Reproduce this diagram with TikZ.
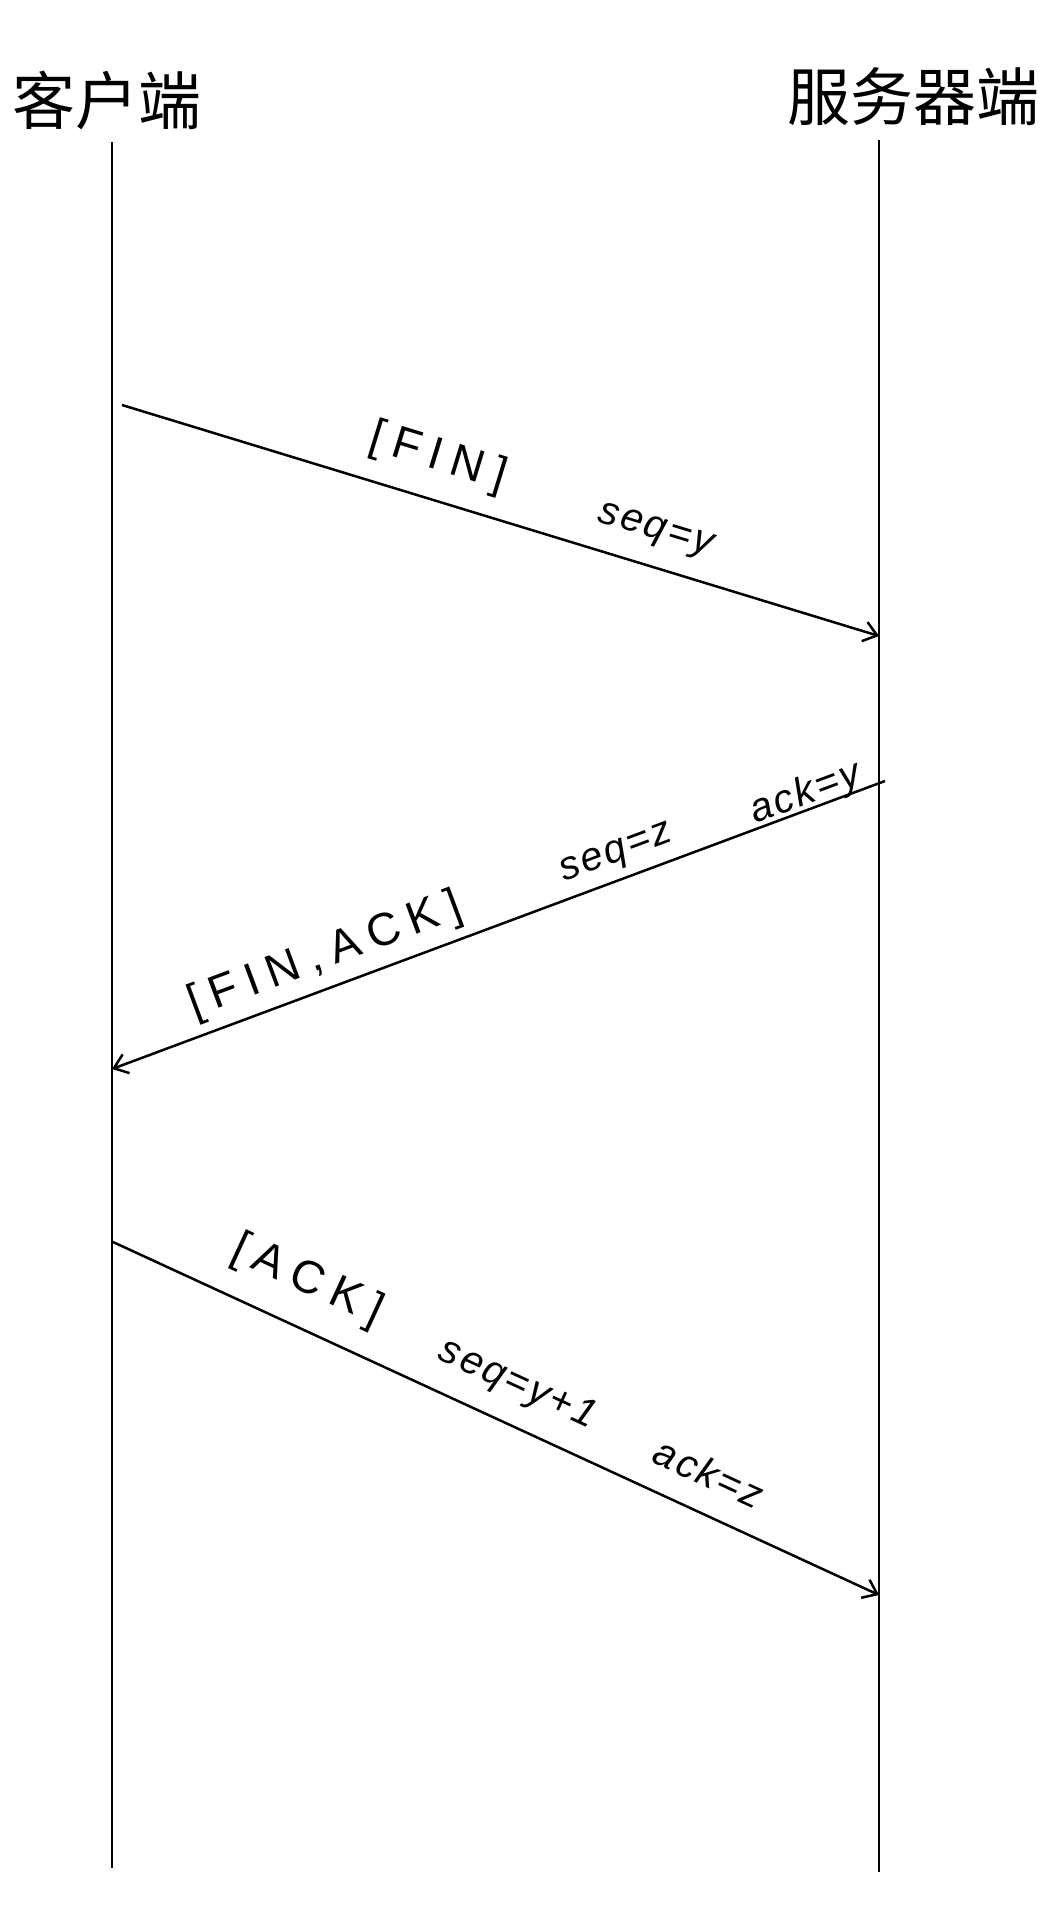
\documentclass[tikz,border=0pt]{standalone}
\usepackage{fontspec}
\setmainfont{Liberation Sans}
\newfontfamily\cjk{Noto Sans CJK SC}
\usetikzlibrary{arrows.meta}
\begin{document}
\begin{tikzpicture}[x=1pt,y=-1pt,
  lifeline/.style={line width=2.6pt},
  msg/.style={line width=2.5pt,-{Straight Barb[length=13pt,width=20pt,line width=2.5pt]}},
  title/.style={font=\cjk\fontsize{63}{63}\selectfont,inner sep=0pt},
  flag/.style={font=\addfontfeature{LetterSpace=22}\fontsize{46}{46}\selectfont,inner sep=0pt},
  field/.style={font=\itshape\addfontfeature{LetterSpace=6}\fontsize{40}{40}\selectfont,inner sep=0pt}]
\useasboundingbox (0,0) rectangle (1057,1909);
% titles
\node[title] (tc) at (107,100) {客户端};
\node[title] (ts) at (913,97) {服务器端};
% lifelines
\coordinate (c1) at (112,142);
\coordinate (c2) at (112,1868);
\coordinate (s1) at (879,140);
\coordinate (s2) at (879,1872);
\draw[lifeline] (c1) -- (c2);
\draw[lifeline] (s1) -- (s2);
% message endpoints
\coordinate (m1a) at (122,405);
\coordinate (m1b) at (879,636);
\coordinate (m2a) at (885,781);
\coordinate (m2b) at (112,1069);
\coordinate (m3a) at (113,1242);
\coordinate (m3b) at (879,1595);
\draw[msg] (m1a) -- (m1b);
\draw[msg] (m2a) -- (m2b);
\draw[msg] (m3a) -- (m3b);
% labels
\node[flag,rotate=-17] (l1a) at (438,458) {[FIN]};
\node[field,rotate=-17] (l1b) at (655,532) {seq=y};
\node[flag,rotate=20.4] (l2a) at (325,956) {[FIN,ACK]};
\node[field,rotate=20.4] (l2b) at (617,855) {seq=z};
\node[field,rotate=20.4] (l2c) at (806,794) {ack=y};
\node[flag,rotate=-24.7] (l3a) at (307,1281) {[ACK]};
\node[field,rotate=-24.7] (l3b) at (517,1385) {seq=y+1};
\node[field,rotate=-24.7] (l3c) at (709,1473) {ack=z};
\end{tikzpicture}
\end{document}
